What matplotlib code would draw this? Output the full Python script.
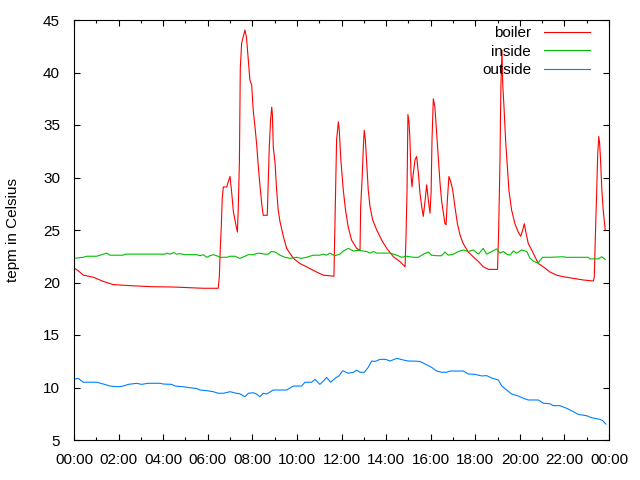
import matplotlib
matplotlib.use("Agg")
import matplotlib.pyplot as plt
from matplotlib.ticker import MultipleLocator

# hours since midnight, temperatures in Celsius
boiler_h = [0.0, 0.2, 0.42, 0.87, 1.32, 1.76, 2.51, 3.5, 4.45, 5.8, 6.47, 6.52, 6.56, 6.61,
            6.65, 6.70, 6.85, 6.92, 7.0, 7.07, 7.15, 7.22, 7.33, 7.37, 7.42, 7.46, 7.52, 7.59,
            7.67, 7.74, 7.82, 7.89, 7.97, 8.04, 8.12, 8.19, 8.27, 8.34, 8.42, 8.49, 8.67, 8.72,
            8.76, 8.82, 8.87, 8.90, 8.94, 9.02, 9.09, 9.16, 9.24, 9.39, 9.54, 9.84, 10.14, 10.43,
            10.88, 11.18, 11.66, 11.71, 11.78, 11.86, 11.90, 11.97, 12.08, 12.18, 12.30, 12.45,
            12.68, 12.83, 12.86, 12.93, 12.98, 13.02, 13.07, 13.13, 13.20, 13.28, 13.40, 13.58,
            13.80, 14.03, 14.33, 14.62, 14.85, 14.89, 14.94, 14.98, 15.03, 15.07, 15.12, 15.16,
            15.22, 15.30, 15.37, 15.45, 15.52, 15.60, 15.67, 15.75, 15.82, 15.90, 15.97, 16.02,
            16.06, 16.12, 16.19, 16.27, 16.34, 16.42, 16.49, 16.57, 16.64, 16.69, 16.75, 16.82,
            16.90, 16.99, 17.09, 17.20, 17.32, 17.46, 17.69, 17.91, 18.14, 18.36, 18.59, 19.00,
            19.05, 19.11, 19.15, 19.20, 19.23, 19.29, 19.36, 19.44, 19.51, 19.63, 19.78, 19.93,
            20.04, 20.13, 20.20, 20.28, 20.38, 20.53, 20.68, 20.83, 21.05, 21.35, 21.65, 21.95,
            22.40, 22.85, 23.30, 23.34, 23.40, 23.45, 23.49, 23.54, 23.58, 23.62, 23.68, 23.74,
            23.83]
boiler = [21.4, 21.1, 20.7, 20.5, 20.1, 19.8, 19.7, 19.6, 19.57, 19.45, 19.45, 20.55, 23.1, 25.5,
          28.0, 29.1, 29.1, 29.6, 30.1, 28.65, 26.75, 25.95, 24.8, 27.1, 31.5, 40.4, 42.8, 43.4,
          44.05, 43.3, 41.2, 39.3, 38.8, 36.4, 34.8, 33.25, 31.0, 29.3, 27.5, 26.4, 26.4, 30.2,
          32.9, 35.5, 36.7, 36.0, 32.9, 31.35, 28.8, 26.9, 25.8, 24.4, 23.25, 22.3, 21.8, 21.5,
          21.0, 20.7, 20.6, 26.1, 33.6, 35.3, 34.5, 31.7, 28.8, 26.9, 25.3, 24.05,
          23.25, 23.05, 27.2, 30.1, 32.9, 34.5, 33.6, 31.35, 28.8, 27.2, 25.95, 25.0,
          24.05, 23.25, 22.45, 22.0, 21.5, 24.05, 28.8, 36.0, 35.2, 33.6, 30.2, 29.1,
          30.4, 31.7, 32.0, 30.4, 28.5, 27.2, 26.3, 27.8, 29.3, 27.8, 26.6, 28.6,
          33.6, 37.5, 36.7, 34.2, 32.0, 29.45, 27.8, 26.6, 25.6, 25.5, 27.9, 30.1,
          29.6, 28.8, 27.2, 25.6, 24.5, 23.7, 22.9, 22.45, 22.0, 21.5, 21.25, 21.25,
          25.0, 31.7, 38.65, 42.1, 39.0, 36.7, 33.6, 31.0, 28.8, 26.9, 25.6, 24.8,
          24.4, 25.0, 25.6, 24.7, 23.7, 23.1, 22.45, 21.8, 21.5, 21.0, 20.7, 20.55,
          20.4, 20.24, 20.14, 20.55, 25.3, 28.8, 32.0, 33.9, 33.25, 31.7, 28.8, 26.9,
          25.0]

inside_h = [0.0, 0.42, 0.57, 1.02, 1.17, 1.47, 1.61, 2.21, 2.29, 4.08, 4.16, 4.31, 4.48, 4.6,
            4.75, 4.98, 5.5, 5.65, 5.8, 5.95, 6.1, 6.25, 6.4, 6.55, 6.85, 7.0, 7.22, 7.44, 7.67,
            7.82, 8.04, 8.27, 8.57, 8.72, 8.84, 9.02, 9.24, 9.46, 9.69, 9.99, 10.21, 10.43,
            10.73, 11.03, 11.18, 11.33, 11.48, 11.70, 11.93, 12.08, 12.31, 12.53, 12.68, 12.83,
            12.98, 13.13, 13.28, 13.43, 13.58, 13.88, 14.18, 14.33, 14.48, 14.70, 14.92, 15.22,
            15.45, 15.67, 15.90, 16.04, 16.27, 16.49, 16.64, 16.79, 17.02, 17.24, 17.46, 17.69,
            17.91, 18.14, 18.36, 18.51, 18.74, 18.96, 19.11, 19.26, 19.41, 19.56, 19.71, 19.86,
            20.08, 20.31, 20.46, 20.63, 20.83, 20.90, 21.02, 21.35, 21.95, 22.07, 23.07, 23.15,
            23.52, 23.67, 23.83]
inside = [22.3, 22.4, 22.5, 22.5, 22.6, 22.8, 22.6, 22.6, 22.7, 22.7, 22.8, 22.7, 22.85, 22.7,
          22.75, 22.65, 22.65, 22.55, 22.65, 22.4, 22.55, 22.65, 22.55, 22.4, 22.4, 22.5, 22.5,
          22.3, 22.5, 22.65, 22.65, 22.8, 22.7, 22.7, 22.95, 22.9, 22.6, 22.4, 22.3, 22.4, 22.3,
          22.4, 22.6, 22.6, 22.7, 22.6, 22.8, 22.55, 22.7, 23.0, 23.25, 23.0, 23.05, 23.05,
          23.0, 22.95, 22.8, 22.95, 22.8, 22.8, 22.8, 22.7, 22.6, 22.4, 22.5, 22.4,
          22.4, 22.7, 22.9, 22.6, 22.55, 22.55, 22.9, 22.6, 22.7, 22.95, 23.1, 22.95,
          23.1, 22.7, 23.25, 22.7, 22.95, 23.2, 22.8, 22.95, 22.7, 22.6, 23.0, 22.8,
          23.1, 22.95, 22.3, 22.0, 21.85, 22.1, 22.4, 22.4, 22.45, 22.4, 22.4, 22.25,
          22.25, 22.45, 22.2]

outside_h = [0.0, 0.19, 0.42, 1.02, 1.32, 1.61, 1.99, 2.21, 2.44, 2.81, 3.03, 3.33, 3.86, 4.01,
             4.38, 4.53, 4.90, 5.20, 5.50, 5.65, 5.95, 6.25, 6.47, 6.70, 7.0, 7.29, 7.44, 7.67,
             7.82, 8.04, 8.19, 8.34, 8.49, 8.64, 8.94, 9.54, 9.84, 10.21, 10.36, 10.66, 10.81,
             11.03, 11.18, 11.33, 11.51, 11.71, 11.90, 12.05, 12.30, 12.53, 12.68, 12.83, 13.02,
             13.20, 13.35, 13.50, 13.73, 13.98, 14.18, 14.48, 14.77, 15.0, 15.22, 15.52, 15.75,
             16.04, 16.27, 16.49, 16.72, 16.87, 17.46, 17.69, 17.99, 18.29, 18.51, 18.74, 19.04,
             19.19, 19.41, 19.63, 19.93, 20.16, 20.38, 20.83, 21.05, 21.35, 21.50, 21.80, 22.10,
             22.40, 22.62, 23.0, 23.22, 23.59, 23.71, 23.86]
outside = [10.8, 10.87, 10.5, 10.5, 10.33, 10.14, 10.07, 10.14, 10.3, 10.4, 10.3, 10.4, 10.4, 10.33,
           10.3, 10.14, 10.07, 9.98, 9.9, 9.76, 9.7, 9.6, 9.45, 9.45, 9.6, 9.45, 9.4, 9.12,
           9.45, 9.5, 9.38, 9.12, 9.45, 9.38, 9.76, 9.76, 10.14, 10.14, 10.5, 10.5, 10.78,
           10.3, 10.6, 10.96, 10.5, 10.87, 11.13, 11.6, 11.36, 11.45, 11.65, 11.45, 11.45,
           11.92, 12.52, 12.48, 12.68, 12.68, 12.52, 12.78, 12.62, 12.52, 12.52, 12.48, 12.24,
           11.92, 11.57, 11.45, 11.45, 11.57, 11.57, 11.29, 11.25, 11.1, 11.13, 10.9, 10.71,
           10.14, 9.76, 9.38, 9.19, 8.97, 8.81, 8.81, 8.5, 8.45, 8.27, 8.27, 8.02,
           7.7, 7.44, 7.31, 7.12, 6.97, 6.85, 6.52]

hour_ticks = list(range(0, 25, 2))
hour_labels = ["%02d:00" % (h % 24) for h in hour_ticks]

plt.rcParams['font.family'] = ['Liberation Sans', 'DejaVu Sans']

fig = plt.figure(figsize=(6.4, 4.8), dpi=100)
ax = fig.add_axes([74/640, 40/480, 535/640, 420/480])

ax.plot(boiler_h, boiler, color='#ff0000', lw=0.8, label='boiler')
ax.plot(inside_h, inside, color='#00c000', lw=0.8, label='inside')
ax.plot(outside_h, outside, color='#0080ff', lw=0.8, label='outside')

ax.set_xlim(0, 24)
ax.set_ylim(5, 45)
ax.set_xticks(hour_ticks)
ax.set_xticklabels(hour_labels)
ax.xaxis.set_minor_locator(MultipleLocator(1))
ax.yaxis.set_major_locator(MultipleLocator(5))
ax.tick_params(which='both', direction='in', top=True, right=True, labelsize=11, width=0.8)
ax.tick_params(which='major', length=4)
ax.tick_params(which='minor', length=2.5)
ax.tick_params(axis='x', which='major', pad=9)
ax.tick_params(axis='y', which='major', pad=10)
for s in ax.spines.values():
    s.set_linewidth(0.8)

ax.set_ylabel('tepm in Celsius', fontsize=11)
ax.yaxis.set_label_coords(-0.101, 0.5)

ax.legend(loc='upper right', bbox_to_anchor=(0.9757, 1.0), frameon=False, fontsize=11,
          markerfirst=False, handlelength=3.0, labelspacing=0.3, borderaxespad=0,
          handletextpad=0.85)

fig.savefig('out.png', dpi=100)
